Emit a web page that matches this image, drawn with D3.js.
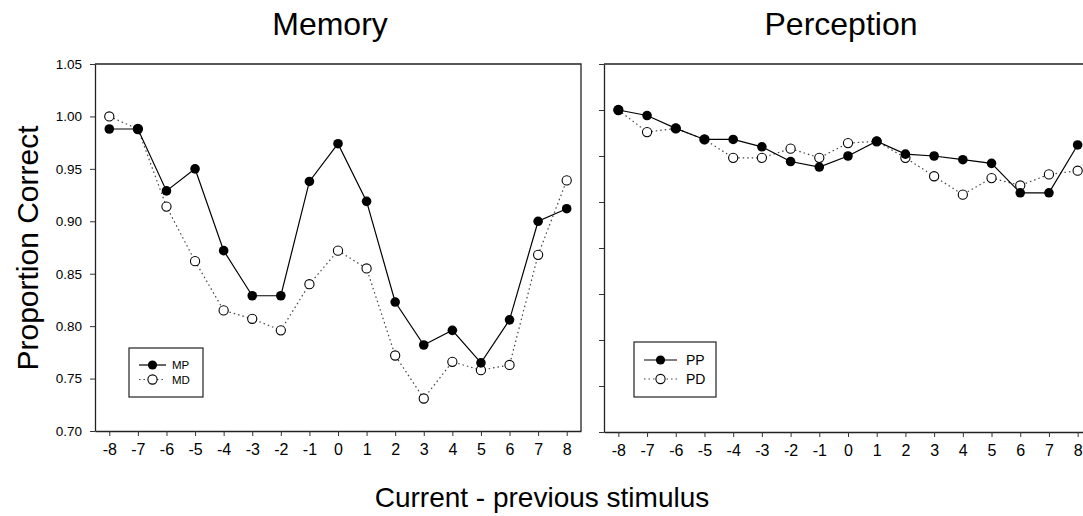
<!DOCTYPE html>
<html>
<head>
<meta charset="utf-8">
<script src="https://cdn.jsdelivr.net/npm/d3@7"></script>
<style>
  body { margin: 0; background: #fff; }
  svg { display: block; font-family: "Liberation Sans", Arial, sans-serif; }
</style>
</head>
<body>
<svg class="chart" width="1083" height="516"></svg>
<script>
// x values: current - previous stimulus
var lags = [-8, -7, -6, -5, -4, -3, -2, -1, 0, 1, 2, 3, 4, 5, 6, 7, 8];

// Memory panel
var mp = [0.988, 0.988, 0.929, 0.950, 0.872, 0.829, 0.829, 0.938, 0.974, 0.919, 0.823, 0.782, 0.796, 0.765, 0.806, 0.900, 0.912];
var md = [1.000, 0.988, 0.914, 0.862, 0.815, 0.807, 0.796, 0.840, 0.872, 0.855, 0.772, 0.731, 0.766, 0.758, 0.763, 0.868, 0.939];

// Perception panel
var pp = [0.975, 0.972, 0.965, 0.959, 0.959, 0.955, 0.947, 0.944, 0.950, 0.958, 0.951, 0.950, 0.948, 0.946, 0.930, 0.930, 0.956];
var pd = [0.975, 0.963, 0.965, 0.959, 0.949, 0.949, 0.954, 0.949, 0.957, 0.958, 0.949, 0.939, 0.929, 0.938, 0.934, 0.940, 0.942];

var memTicks = [0.70, 0.75, 0.80, 0.85, 0.90, 0.95, 1.00, 1.05];
var percTicks = [0.800, 0.825, 0.850, 0.875, 0.900, 0.925, 0.950, 0.975, 1.000];

const svg = d3.select('.chart');

function panel(opts) {
  var x = d3.scaleLinear().domain([-8.5, 8.5]).range([opts.left, opts.right]);
  var y = d3.scaleLinear().domain(opts.yDomain).range([opts.bottom, opts.top]);
  var g = svg.append('g');

  // frame (top + right)
  g.append('path')
    .attr('d', 'M' + opts.left + ',' + opts.top + 'H' + opts.right + 'V' + opts.bottom)
    .attr('fill', 'none').attr('stroke', '#222').attr('stroke-width', 1.3);

  var xAxis = g.append('g')
    .attr('transform', 'translate(0,' + opts.bottom + ')')
    .call(d3.axisBottom(x).tickValues(lags).tickSize(5).tickSizeOuter(0).tickPadding(8).tickFormat((d) => String(d)));
  xAxis.selectAll('text').attr('font-size', 16).attr('fill', '#000');

  var yAxis = g.append('g')
    .attr('transform', 'translate(' + opts.left + ',0)')
    .call(d3.axisLeft(y).tickValues(opts.ticks).tickSize(5).tickSizeOuter(0).tickPadding(8)
      .tickFormat(opts.showLabels ? d3.format('.2f') : ''));
  yAxis.selectAll('text').attr('font-size', 13.5).attr('fill', '#000');

  [xAxis, yAxis].forEach(function (a) {
    a.select('.domain').attr('stroke', '#222').attr('stroke-width', 1.3);
    a.selectAll('.tick line').attr('stroke', '#333');
  });

  var line = d3.line().x((d, i) => x(lags[i])).y((d) => y(d));

  // dotted series first, then solid
  g.append('path').datum(opts.open)
    .attr('d', line).attr('fill', 'none')
    .attr('stroke', '#444').attr('stroke-width', 1.2).attr('stroke-dasharray', '1.5,3');
  g.append('path').datum(opts.filled)
    .attr('d', line).attr('fill', 'none')
    .attr('stroke', '#000').attr('stroke-width', 1.2);

  g.selectAll('.open').data(opts.open).enter().append('circle')
    .attr('cx', (d, i) => x(lags[i])).attr('cy', (d) => y(d)).attr('r', 4.6)
    .attr('fill', '#fff').attr('stroke', '#000').attr('stroke-width', 1.1);
  g.selectAll('.filled').data(opts.filled).enter().append('circle')
    .attr('cx', (d, i) => x(lags[i])).attr('cy', (d) => y(d)).attr('r', 4.8)
    .attr('fill', '#000');

  // title
  svg.append('text').attr('x', opts.titleX).attr('y', 35)
    .attr('text-anchor', 'middle').attr('font-size', 32).text(opts.title);

  // legend
  var L = opts.legend;
  var lg = svg.append('g').attr('transform', 'translate(' + L.x + ',' + L.y + ')');
  lg.append('rect').attr('width', L.w).attr('height', L.h)
    .attr('fill', '#fff').attr('stroke', '#222').attr('stroke-width', 1.2);
  var rows = [
    {name: opts.names[0], solid: true},
    {name: opts.names[1], solid: false}
  ];
  rows.forEach(function (r, i) {
    var ry = L.row0 + i * L.gap;
    lg.append('line').attr('x1', L.lx0).attr('x2', L.lx1).attr('y1', ry).attr('y2', ry)
      .attr('stroke', r.solid ? '#000' : '#444').attr('stroke-width', 1.2)
      .attr('stroke-dasharray', r.solid ? null : '1.5,3');
    lg.append('circle').attr('cx', (L.lx0 + L.lx1) / 2).attr('cy', ry).attr('r', 4.6)
      .attr('fill', r.solid ? '#000' : '#fff').attr('stroke', '#000').attr('stroke-width', r.solid ? 0 : 1.1);
    lg.append('text').attr('x', L.tx).attr('y', ry).attr('dy', '0.36em')
      .attr('font-size', L.fs).text(r.name);
  });
}

panel({
  left: 95, right: 581, top: 64, bottom: 431,
  yDomain: [0.70, 1.05], ticks: memTicks, showLabels: true,
  filled: mp, open: md, names: ['MP', 'MD'],
  title: 'Memory', titleX: 330,
  legend: {x: 129, y: 348, w: 74, h: 49, row0: 17, gap: 14.5, lx0: 10, lx1: 37, tx: 43, fs: 11.5}
});

panel({
  left: 604, right: 1092, top: 64, bottom: 432,
  yDomain: [0.80, 1.00], ticks: percTicks, showLabels: false,
  filled: pp, open: pd, names: ['PP', 'PD'],
  title: 'Perception', titleX: 841,
  legend: {x: 634, y: 342, w: 82, h: 55, row0: 18, gap: 19, lx0: 10, lx1: 43, tx: 52, fs: 14}
});

// shared axis titles
svg.append('text')
  .attr('transform', 'translate(38,248) rotate(-90)')
  .attr('text-anchor', 'middle').attr('font-size', 30).text('Proportion Correct');

svg.append('text').attr('x', 542).attr('y', 507)
  .attr('text-anchor', 'middle').attr('font-size', 28).text('Current - previous stimulus');
</script>
</body>
</html>
